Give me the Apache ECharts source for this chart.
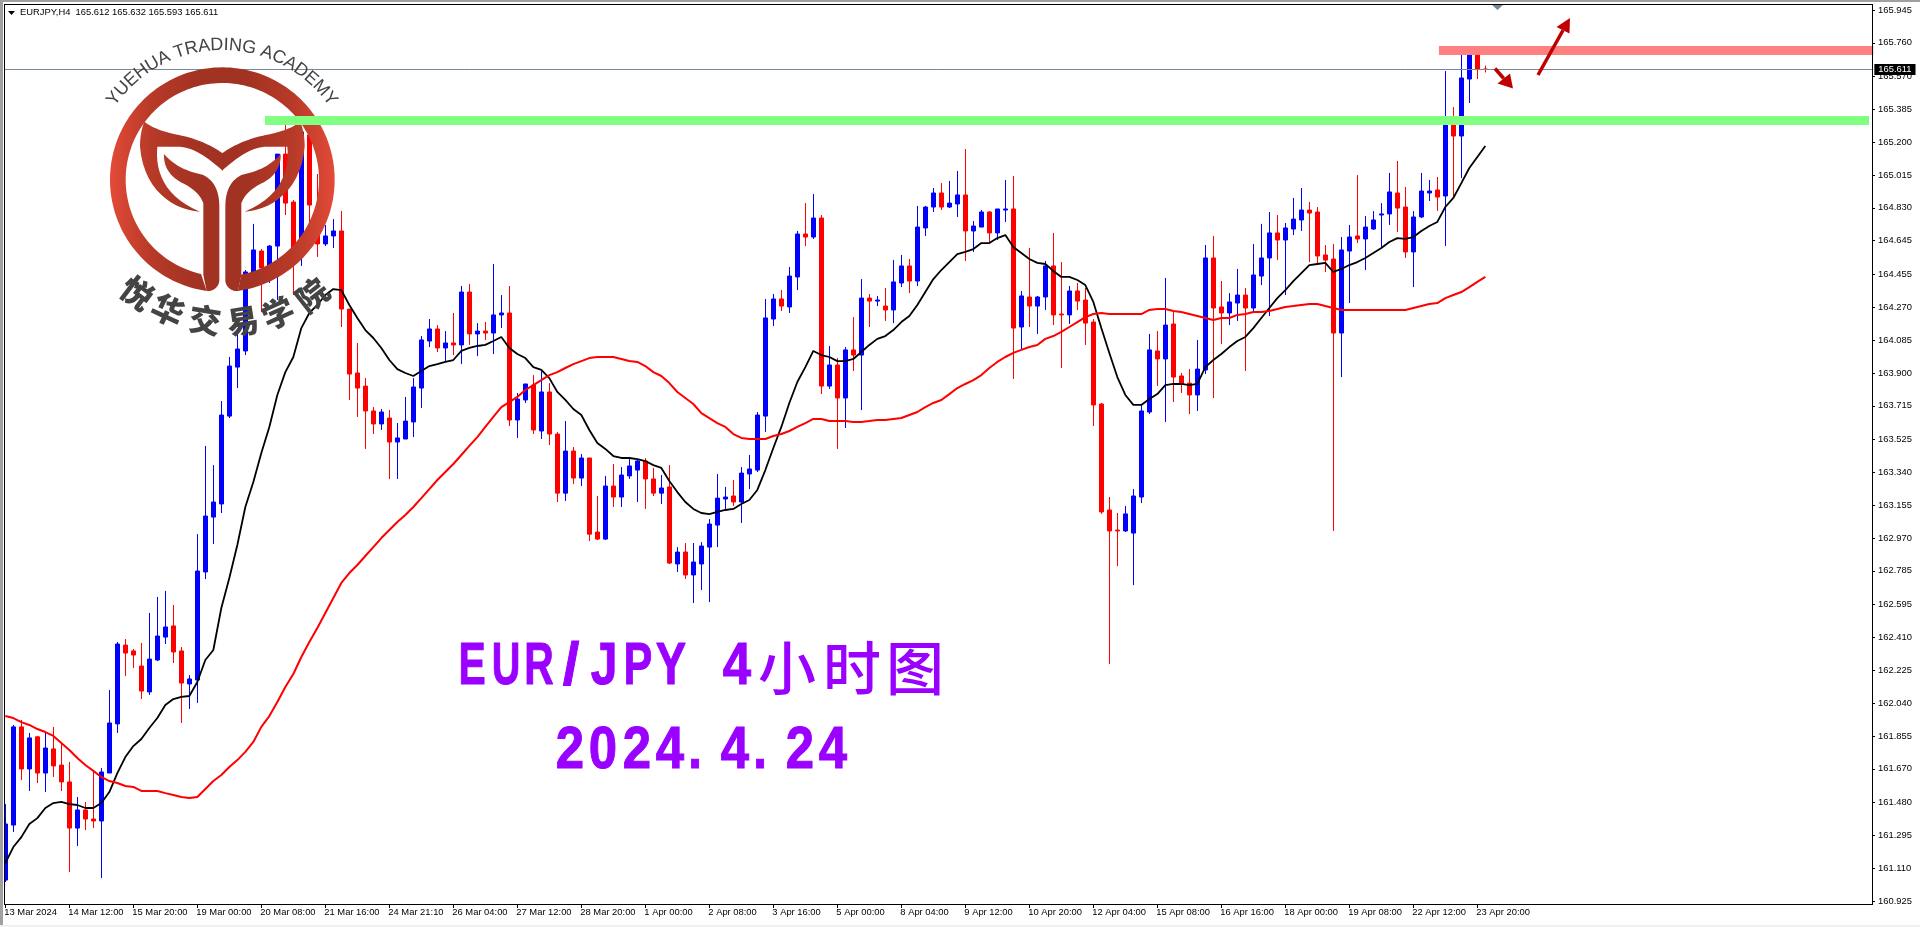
<!DOCTYPE html>
<html><head><meta charset="utf-8">
<style>html,body{margin:0;padding:0;background:#fff;overflow:hidden}#c{width:1920px;height:927px}</style>
<script src="https://cdn.jsdelivr.net/npm/echarts@6/dist/echarts.min.js"></script>
</head><body><div id="c"></div>
<script>
const xTickLabels=["13 Mar 2024","14 Mar 12:00","15 Mar 20:00","19 Mar 00:00","20 Mar 08:00","21 Mar 16:00","24 Mar 21:10","26 Mar 04:00","27 Mar 12:00","28 Mar 20:00","1 Apr 00:00","2 Apr 08:00","3 Apr 16:00","5 Apr 00:00","8 Apr 04:00","9 Apr 12:00","10 Apr 20:00","12 Apr 04:00","15 Apr 08:00","16 Apr 16:00","18 Apr 00:00","19 Apr 08:00","22 Apr 12:00","23 Apr 20:00"];
const yTicks=[165.945,165.760,165.570,165.385,165.200,165.015,164.830,164.645,164.455,164.270,164.085,163.900,163.715,163.525,163.340,163.155,162.970,162.785,162.595,162.410,162.225,162.040,161.855,161.670,161.480,161.295,161.110,160.925];
const opens=[161.043,161.353,161.906,161.669,161.850,161.646,161.782,161.691,161.596,161.336,
161.438,161.387,161.376,161.646,161.923,162.367,162.334,162.249,162.103,162.283,
162.412,162.475,162.334,162.148,162.170,162.779,163.088,163.162,163.657,163.933,
164.024,164.469,164.587,164.480,164.615,165.133,164.863,164.660,165.241,164.689,
164.627,164.672,164.700,164.260,163.900,163.826,163.686,163.613,163.646,163.511,
163.528,163.624,163.815,164.080,164.148,164.041,164.069,164.058,164.356,164.120,
164.136,164.125,164.227,164.238,163.635,163.748,163.832,163.573,163.793,163.556,
163.223,163.460,163.308,163.421,163.004,162.964,163.263,163.201,163.320,163.353,
163.404,163.303,163.223,163.258,162.824,162.891,162.762,162.824,162.919,163.043,
163.190,163.207,163.173,163.331,163.353,163.657,164.204,164.317,164.272,164.441,
164.683,164.666,164.773,163.826,163.945,163.759,164.030,164.001,164.322,164.305,
164.277,164.255,164.407,164.503,164.418,164.717,164.835,164.914,164.835,164.852,
164.903,164.700,164.722,164.807,164.689,164.818,164.824,164.159,164.328,164.277,
164.328,164.503,164.232,164.227,164.362,164.311,164.187,163.725,163.128,163.015,
163.010,162.998,163.201,163.680,164.024,163.979,164.176,163.883,163.843,163.776,
163.917,164.548,164.272,164.238,164.294,164.339,164.266,164.446,164.548,164.689,
164.649,164.711,164.762,164.818,164.807,164.565,164.542,164.125,164.587,164.672,
164.655,164.711,164.790,164.796,164.914,164.835,164.582,164.779,164.914,164.931,
164.897,165.337,165.235,165.556,165.697,165.612];
const closes=[161.359,161.906,161.669,161.844,161.646,161.787,161.686,161.596,161.336,161.438,
161.387,161.376,161.652,161.928,162.373,162.322,162.311,162.108,162.288,162.418,
162.469,162.328,162.153,162.176,162.784,163.094,163.173,163.663,163.939,164.035,
164.469,164.593,164.492,164.615,165.133,164.857,164.520,165.258,164.846,164.627,
164.672,164.700,164.260,163.894,163.815,163.686,163.613,163.680,163.511,163.534,
163.629,163.821,164.086,164.148,164.041,164.069,164.058,164.356,164.120,164.136,
164.125,164.227,164.238,163.635,163.753,163.838,163.579,163.793,163.556,163.223,
163.460,163.308,163.421,162.992,162.964,163.263,163.201,163.325,163.376,163.404,
163.303,163.223,163.252,162.829,162.891,162.762,162.835,162.925,163.049,163.195,
163.201,163.173,163.336,163.359,163.663,164.210,164.317,164.277,164.446,164.683,
164.666,164.773,163.826,163.945,163.759,164.030,164.001,164.322,164.305,164.311,
164.255,164.413,164.503,164.418,164.722,164.835,164.914,164.835,164.857,164.903,
164.700,164.728,164.807,164.689,164.824,164.824,164.153,164.334,164.277,164.328,
164.503,164.227,164.227,164.362,164.305,164.181,163.720,163.117,163.010,163.010,
163.106,163.207,163.686,164.030,163.979,164.170,163.877,163.838,163.776,163.922,
164.548,164.266,164.238,164.300,164.339,164.266,164.452,164.548,164.689,164.649,
164.717,164.767,164.818,164.801,164.559,164.536,164.125,164.593,164.666,164.655,
164.722,164.762,164.796,164.920,164.829,164.582,164.779,164.925,164.925,164.891,
165.342,165.235,165.562,165.697,165.612,165.611];
const highs=[161.471,161.917,161.945,161.872,161.855,161.872,161.906,161.815,161.708,161.511,
161.483,161.658,161.675,162.114,162.384,162.401,162.345,162.379,162.548,162.638,
162.672,162.593,162.356,162.198,162.992,163.489,163.381,163.742,163.990,164.125,
164.480,164.740,164.598,164.621,165.133,165.348,164.875,165.258,165.269,165.021,
164.734,164.767,164.813,164.260,164.069,163.871,163.708,163.697,163.691,163.618,
163.765,163.871,164.108,164.204,164.170,164.136,164.238,164.390,164.401,164.181,
164.187,164.514,164.339,164.390,163.787,163.838,163.888,163.917,163.843,163.567,
163.629,163.483,163.443,163.421,163.207,163.320,163.387,163.370,163.415,163.409,
163.421,163.365,163.325,163.381,162.919,162.942,162.942,162.947,163.077,163.331,
163.258,163.297,163.370,163.438,163.680,164.317,164.345,164.367,164.497,164.700,
164.857,164.908,164.790,164.052,163.984,164.046,164.215,164.429,164.345,164.334,
164.379,164.537,164.565,164.542,164.841,164.841,164.942,164.970,164.982,165.038,
165.162,164.756,164.818,164.812,164.824,164.987,165.010,164.362,164.604,164.334,
164.531,164.689,164.525,164.390,164.407,164.379,164.204,163.731,163.201,163.111,
163.151,163.246,163.719,164.120,164.136,164.435,164.243,163.900,163.922,164.086,
164.621,164.672,164.418,164.350,164.486,164.379,164.627,164.740,164.807,164.790,
164.745,164.886,164.942,164.863,164.835,164.621,164.627,164.666,164.734,165.015,
164.784,164.812,164.857,165.027,165.094,164.948,164.812,165.027,164.987,165.004,
165.601,165.398,165.731,165.731,165.708,165.632];
const lows=[161.032,161.314,161.607,161.545,161.590,161.539,161.624,161.545,161.088,161.235,
161.325,161.336,161.054,161.646,161.872,162.193,162.237,162.063,162.086,162.277,
162.373,162.266,161.928,162.007,162.041,162.739,162.936,163.111,163.646,163.815,
164.001,164.452,164.243,164.407,164.311,164.790,164.339,164.503,164.660,164.554,
164.615,164.604,164.159,163.748,163.652,163.472,163.556,163.579,163.303,163.303,
163.528,163.539,163.703,164.046,164.018,163.967,164.001,163.950,164.058,163.995,
164.086,164.007,164.153,163.601,163.534,163.731,163.556,163.528,163.494,163.173,
163.179,163.274,163.263,162.953,162.959,162.959,163.145,163.145,163.303,163.173,
163.134,163.207,163.162,162.824,162.779,162.739,162.604,162.677,162.609,162.919,
163.128,163.151,163.055,163.246,163.342,163.568,164.164,164.249,164.238,164.367,
164.615,164.655,163.781,163.810,163.472,163.590,163.911,163.691,164.159,164.277,
164.193,164.181,164.384,164.350,164.390,164.672,164.807,164.818,164.829,164.779,
164.531,164.582,164.722,164.638,164.649,164.751,163.866,164.030,164.159,164.120,
164.255,164.170,163.928,164.176,164.255,164.058,163.601,163.106,162.260,162.812,
163.004,162.705,163.167,163.669,163.826,163.624,163.736,163.787,163.669,163.686,
163.894,163.759,164.063,164.170,164.193,163.911,164.249,164.395,164.221,164.536,
164.339,164.677,164.700,164.525,164.514,164.469,163.010,163.877,164.294,164.632,
164.480,164.706,164.610,164.734,164.694,164.548,164.384,164.773,164.869,164.813,
164.615,164.897,164.998,165.421,165.556,165.593];
const maFast=[161.139,161.229,161.285,161.359,161.392,161.449,161.477,161.483,161.471,161.466,
161.449,161.449,161.477,161.539,161.646,161.736,161.798,161.838,161.900,161.956,
162.029,162.063,162.075,162.080,162.159,162.283,162.339,162.576,162.745,162.931,
163.145,163.286,163.449,163.596,163.776,163.905,163.990,164.153,164.238,164.283,
164.339,164.373,164.367,164.283,164.210,164.142,164.097,164.041,163.973,163.922,
163.900,163.883,163.911,163.939,163.950,163.962,163.973,164.024,164.041,164.052,
164.058,164.080,164.103,164.041,164.007,163.984,163.933,163.917,163.871,163.793,
163.748,163.697,163.663,163.579,163.505,163.472,163.432,163.421,163.421,163.415,
163.404,163.381,163.365,163.291,163.229,163.173,163.134,163.111,163.105,163.117,
163.128,163.134,163.162,163.184,163.241,163.353,163.477,163.596,163.731,163.849,
163.933,164.024,164.001,163.990,163.967,163.967,163.979,164.018,164.058,164.092,
164.108,164.142,164.187,164.221,164.283,164.356,164.429,164.480,164.525,164.570,
164.582,164.598,164.632,164.632,164.660,164.677,164.610,164.576,164.542,164.520,
164.514,164.475,164.441,164.441,164.424,164.395,164.300,164.153,164.013,163.877,
163.776,163.720,163.720,163.753,163.781,163.832,163.838,163.838,163.832,163.838,
163.933,163.973,164.007,164.046,164.080,164.103,164.153,164.210,164.266,164.322,
164.367,164.418,164.463,164.508,164.514,164.520,164.469,164.486,164.508,164.525,
164.548,164.576,164.604,164.638,164.660,164.655,164.666,164.700,164.728,164.751,
164.835,164.886,164.970,165.055,165.117,165.179];
const maSlow=[161.967,161.956,161.933,161.917,161.894,161.877,161.855,161.815,161.776,161.731,
161.691,161.658,161.624,161.601,161.590,161.573,161.568,161.545,161.545,161.545,
161.533,161.522,161.511,161.505,161.511,161.556,161.601,161.635,161.680,161.719,
161.765,161.821,161.906,161.967,162.046,162.131,162.204,162.300,162.384,162.463,
162.548,162.632,162.717,162.773,162.818,162.869,162.919,162.970,163.015,163.060,
163.100,163.145,163.195,163.246,163.297,163.342,163.387,163.438,163.489,163.539,
163.596,163.652,163.708,163.736,163.765,163.804,163.832,163.860,163.888,163.905,
163.928,163.950,163.967,163.984,163.990,163.990,163.990,163.979,163.967,163.962,
163.939,163.905,163.883,163.843,163.793,163.759,163.725,163.674,163.646,163.618,
163.596,163.556,163.534,163.528,163.528,163.528,163.545,163.556,163.573,163.596,
163.618,163.641,163.641,163.629,163.629,163.629,163.624,163.624,163.629,163.635,
163.635,163.641,163.646,163.663,163.680,163.708,163.731,163.748,163.781,163.815,
163.838,163.860,163.888,163.928,163.962,163.990,164.013,164.030,164.046,164.058,
164.092,164.108,164.131,164.159,164.187,164.215,164.232,164.238,164.232,164.232,
164.232,164.232,164.232,164.255,164.260,164.260,164.249,164.243,164.232,164.221,
164.210,164.198,164.210,164.210,164.227,164.232,164.243,164.243,164.249,164.260,
164.272,164.277,164.283,164.289,164.289,164.277,164.266,164.255,164.255,164.255,
164.255,164.255,164.255,164.255,164.255,164.255,164.266,164.277,164.289,164.294,
164.322,164.339,164.356,164.384,164.413,164.441];
const lastPrice=165.611;
const bandStart=[32.46,179.2], bandEnd=[232.96,233.5], bandHigh=[165.348,165.742], bandLow=[165.297,165.691];
const bandColors=['#80ff80','#ff8080'];
const headerText='EURJPY,H4  165.612 165.632 165.593 165.611';
const line1='EUR/JPY', line1b='4', line1c='小时图', line2='2024.4.24';
const logoEn='YUEHUA TRADING ACADEMY', logoCn='悦华交易学院';

const slotCount=234, tickStep=8;
const categories=[];
for(let i=0;i<slotCount;i++){categories.push(i%tickStep===0&&xTickLabels[i/tickStep]?xTickLabels[i/tickStep]:' ');}
const candleData=opens.map((o,i)=>[o,closes[i],lows[i],highs[i]]);
const narrow='"Liberation Sans",sans-serif';
const smallSize=9.4;
const g=[];
const frame='#000';
g.push({type:'rect',z:50,shape:{x:0,y:0,width:3,height:927},style:{fill:'#a0a0a0'},silent:true});
g.push({type:'rect',z:50,shape:{x:3,y:2,width:1.5,height:923},style:{fill:'#fff'},silent:true});
g.push({type:'rect',z:50,shape:{x:0,y:0,width:1920,height:2},style:{fill:'#a0a0a0'},silent:true});
g.push({type:'rect',z:50,shape:{x:0,y:925,width:1920,height:2},style:{fill:'#f0f0f0'},silent:true});
g.push({type:'rect',z:51,shape:{x:4,y:4,width:1,height:900},style:{fill:frame},silent:true});
g.push({type:'rect',z:51,shape:{x:4,y:4,width:1869,height:1},style:{fill:frame},silent:true});
g.push({type:'rect',z:51,shape:{x:4,y:904,width:1869,height:1},style:{fill:frame},silent:true});
g.push({type:'rect',z:51,shape:{x:1872,y:4,width:1,height:901},style:{fill:frame},silent:true});
g.push({type:'polygon',z:52,shape:{points:[[8,11],[15,11],[11.5,15]]},style:{fill:'#000'},silent:true});
g.push({type:'text',z:52,x:20,y:12.5,style:{text:headerText,font:smallSize+'px '+narrow,fill:'#000',verticalAlign:'middle'},silent:true});
g.push({type:'polygon',z:52,shape:{points:[[1492,5],[1503,5],[1497.5,10]]},style:{fill:'#778899'},silent:true});
const grad={type:'linear',x:110,y:0,x2:334,y2:0,global:true,colorStops:[{offset:0,color:'#e34a38'},{offset:.18,color:'#b83a28'},{offset:.4,color:'#a23222'},{offset:.6,color:'#a23222'},{offset:.82,color:'#b83a28'},{offset:1,color:'#e34a38'}]};
function bez(p0,c1,c2,p1,out){for(let t=1;t<=14;t++){const u=t/14,v=1-u;out.push([v*v*v*p0[0]+3*v*v*u*c1[0]+3*v*u*u*c2[0]+u*u*u*p1[0],v*v*v*p0[1]+3*v*v*u*c1[1]+3*v*u*u*c2[1]+u*u*u*p1[1]]);}}
function outline(start,segs,mirror){const pts=[start];let cur=start;segs.forEach(s=>{if(s.length===2){pts.push(s);cur=s;}else{bez(cur,[s[0],s[1]],[s[2],s[3]],[s[4],s[5]],pts);cur=[s[4],s[5]];}});return pts.map(p=>[(mirror?1334-p[0]:p[0])/3,p[1]/3]);}
const wingSegs=[[640,440,610,425,560,410],[530,403,470,395,433,365],[425,385,420,410,420,440],[430,570,520,630,600,635],[490,590,465,510,472,440],[540,440],[590,445,630,480,668,512]];
const stemSegs=[[530,505,570,515,610,525],[640,540,658,570,658,620],[658,840],[658,860,640,875,620,873],[610,825],[610,610],[600,580,570,560,545,548],[510,530,490,500,492,462]];
[false,true].forEach(m=>{
 g.push({type:'polygon',z:5,shape:{points:outline([668,460],wingSegs,m)},style:{fill:grad},silent:true});
 g.push({type:'polygon',z:5,shape:{points:outline([492,462],stemSegs,m)},style:{fill:grad},silent:true});
});
(function(){const pts=[];const cx=667/3,cy=539/3,R=337/3,r=290/3;
 for(let a=8;a<=352;a+=2){const t=a*Math.PI/180;pts.push([cx-R*Math.sin(t),cy+R*Math.cos(t)]);}
 for(let a=348.7;a>=11.3;a-=2){const t=a*Math.PI/180;pts.push([cx-r*Math.sin(t),cy+r*Math.cos(t)]);}
 g.push({type:'polygon',z:5,shape:{points:pts},style:{fill:grad},silent:true});
})();
(function(){const ctx=document.createElement('canvas').getContext('2d');const font='18px "Liberation Sans",sans-serif';ctx.font=font;
 const w=[...logoEn].map(c=>ctx.measureText(c).width);const tot=w.reduce((a,b)=>a+b,0)-w[0]/2-w[w.length-1]/2;
 let acc=0;[...logoEn].forEach((c,i)=>{if(i>0)acc+=(w[i-1]+w[i])/2;const al=(-53+106*acc/tot)*Math.PI/180;const R=135;
  g.push({type:'text',z:6,x:222+R*Math.sin(al),y:180-R*Math.cos(al),rotation:-al,style:{text:c,font,fill:'#444',align:'center',verticalAlign:'middle'},silent:true});});
 const pos=[[137,293,37],[168,310,25],[205,320,9],[243,321,-9],[278,313,-24],[312,295,-38]];
 [...logoCn].forEach((c,i)=>{g.push({type:'text',z:6,x:pos[i][0],y:pos[i][1],rotation:-pos[i][2]*Math.PI/180,style:{text:c,font:'900 32px "Noto Sans CJK SC"',fill:'#444',align:'center',verticalAlign:'middle'},silent:true});});
})();
function arrow(x1,y1,x2,y2,b1,b2){g.push({type:'line',z:20,shape:{x1,y1,x2:(b1[0]+b2[0])/2,y2:(b1[1]+b2[1])/2},style:{stroke:'#c00000',lineWidth:3.5},silent:true});
 g.push({type:'polygon',z:20,shape:{points:[[x2,y2],b1,b2]},style:{fill:'#c00000'},silent:true});}
arrow(1538,75,1570,18,[1556.5,27],[1569.5,33.5]);
arrow(1495,68.5,1513,88.5,[1497.5,83.5],[1510,73.5]);
const tfont='bold 60px "Liberation Sans",sans-serif';
const purple='#9900ff';
function titleChar(c,x,y,sx){return {type:'text',z:6,x,y,scaleX:sx,style:{text:c,font:tfont,fill:purple,stroke:purple,lineWidth:1,align:'center',verticalAlign:'middle'},silent:true};}
const t1x=[472,506,539,571,604,638,671];
const t1s=[.68,.66,.68,1,.8,.72,.76];
[...line1].forEach((c,i)=>g.push(titleChar(c,t1x[i],667.5,t1s[i])));
g.push(titleChar(line1b,737,667.5,.85));
const t1c=[787,852,915];
[...line1c].forEach((c,i)=>g.push({type:'text',z:6,x:t1c[i],y:668,style:{text:c,font:'500 58px "Noto Sans CJK SC"',fill:purple,align:'center',verticalAlign:'middle'},silent:true}));
const t2x=[570,603,637,670,695,735,760,800,833];
[...line2].forEach((c,i)=>g.push(titleChar(c,t2x[i],751,.85)));

const chart=echarts.init(document.getElementById('c'),null,{renderer:'canvas',width:1920,height:927});
chart.setOption({
 animation:false,backgroundColor:'#fff',
 grid:{left:1.33,width:1872,top:4,height:900,containLabel:false,outerBoundsMode:'none'},
 xAxis:{type:'category',data:categories,boundaryGap:true,
  axisLine:{show:false},
  axisTick:{show:true,alignWithLabel:true,length:4,interval:i=>i%tickStep===0&&i/tickStep<xTickLabels.length,lineStyle:{color:'#000',width:1}},
  axisLabel:{show:true,interval:i=>i%tickStep===0&&i/tickStep<xTickLabels.length,align:'left',margin:4,padding:[0,0,0,-1],fontFamily:narrow,fontSize:smallSize,color:'#000',hideOverlap:false},
  splitLine:{show:false}},
 yAxis:{type:'value',position:'right',offset:-1.33,scale:true,min:160.9082,max:165.9788,
  axisLine:{show:false},
  axisTick:{show:true,length:3,customValues:yTicks,lineStyle:{color:'#000'}},
  axisLabel:{show:true,margin:6,customValues:yTicks,formatter:v=>v.toFixed(3),fontFamily:narrow,fontSize:smallSize,color:'#000',hideOverlap:false},
  splitLine:{show:false}},
 graphic:{elements:g},
 series:[
  {type:'candlestick',z:2,data:candleData,barWidth:4,clip:true,
   itemStyle:{color:'#0000ff',color0:'#ff0000',borderColor:'#0000ff',borderColor0:'#ff0000',borderWidth:1},
   markLine:{silent:true,symbol:'none',animation:false,z:4,lineStyle:{color:'#778899',width:1,type:'solid'},
    label:{show:true,position:'end',distance:1,formatter:()=>lastPrice.toFixed(3),color:'#fff',backgroundColor:'#000',padding:[1,4,1,4],fontFamily:narrow,fontSize:smallSize},
    data:[{yAxis:lastPrice}]}},
  {type:'line',z:3,data:maFast,symbol:'none',smooth:false,lineStyle:{color:'#000',width:1.8},silent:true},
  {type:'line',z:3,data:maSlow,symbol:'none',smooth:false,lineStyle:{color:'#ff0000',width:2},silent:true},
  {type:'custom',z:10,silent:true,clip:false,data:bandColors.map((c,i)=>i),
   renderItem:(p,api)=>{const i=p.dataIndex;const slot=api.size([1,0])[0];
    const sx=Math.floor(bandStart[i]),ex=Math.floor(bandEnd[i]);
    const a=api.coord([sx,bandHigh[i]]),b=api.coord([ex,bandLow[i]]);
    const x0=a[0]+(bandStart[i]-sx)*slot,x1=b[0]+(bandEnd[i]-ex)*slot;
    return {type:'rect',shape:{x:x0,y:a[1],width:x1-x0,height:b[1]-a[1]},style:{fill:bandColors[i],blend:'multiply'}};}}
 ]
});
</script></body></html>
